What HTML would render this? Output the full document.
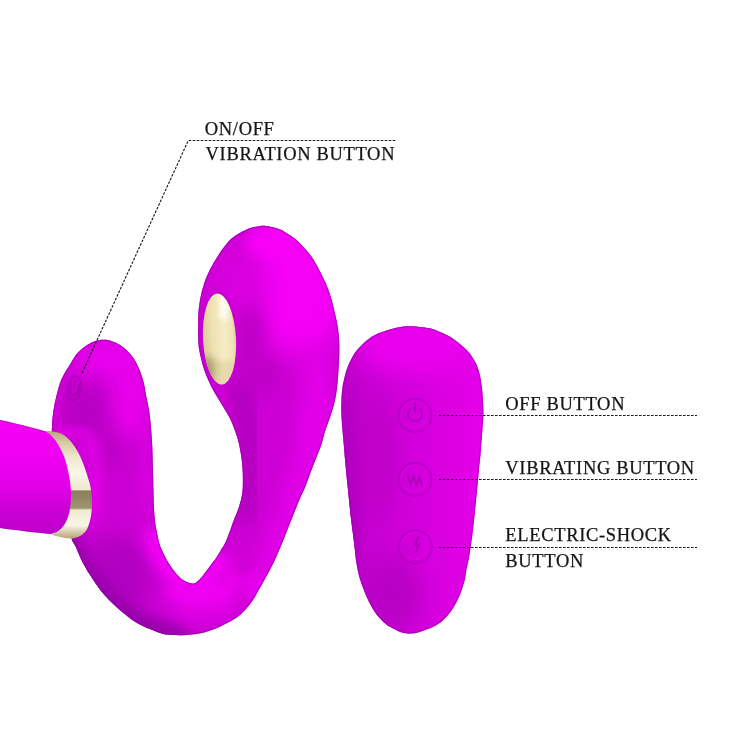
<!DOCTYPE html>
<html><head><meta charset="utf-8"><style>
html,body{margin:0;padding:0;background:#fff;width:730px;height:730px;overflow:hidden}
svg{display:block}
.t{font-family:"Liberation Serif",serif;font-size:18.5px;letter-spacing:0.66px;fill:#141414;stroke:#141414;stroke-width:0.25px}
</style></head><body>
<svg width="730" height="730" viewBox="0 0 730 730">
<defs>
<filter id="gray"><feColorMatrix type="saturate" values="0"/></filter>
<filter id="b05" x="-50%" y="-50%" width="200%" height="200%"><feGaussianBlur stdDeviation="0.5"/></filter>
<filter id="b2" x="-50%" y="-50%" width="200%" height="200%"><feGaussianBlur stdDeviation="2"/></filter>
<filter id="b4" x="-50%" y="-50%" width="200%" height="200%"><feGaussianBlur stdDeviation="4"/></filter>
<filter id="b6" x="-50%" y="-50%" width="200%" height="200%"><feGaussianBlur stdDeviation="6"/></filter>
<filter id="b8" x="-50%" y="-50%" width="200%" height="200%"><feGaussianBlur stdDeviation="8"/></filter>
<filter id="b10" x="-50%" y="-50%" width="200%" height="200%"><feGaussianBlur stdDeviation="10"/></filter>
<filter id="b12" x="-50%" y="-50%" width="200%" height="200%"><feGaussianBlur stdDeviation="12"/></filter>
<filter id="b15" x="-50%" y="-50%" width="200%" height="200%"><feGaussianBlur stdDeviation="15"/></filter>
<filter id="b20" x="-50%" y="-50%" width="200%" height="200%"><feGaussianBlur stdDeviation="20"/></filter>
<linearGradient id="gBody" gradientUnits="userSpaceOnUse" x1="320" y1="260" x2="110" y2="620">
  <stop offset="0" stop-color="#f400f4"/>
  <stop offset="0.55" stop-color="#dc00e4"/>
  <stop offset="1" stop-color="#b800c8"/>
</linearGradient>
<linearGradient id="gRemote" gradientUnits="userSpaceOnUse" x1="341" y1="0" x2="484" y2="0">
  <stop offset="0" stop-color="#bc00c8"/>
  <stop offset="0.25" stop-color="#c800d2"/>
  <stop offset="0.6" stop-color="#d600de"/>
  <stop offset="1" stop-color="#e400e8"/>
</linearGradient>
<linearGradient id="gBar" gradientUnits="userSpaceOnUse" x1="0" y1="420" x2="0" y2="534">
  <stop offset="0" stop-color="#f400f6"/>
  <stop offset="0.3" stop-color="#f000f2"/>
  <stop offset="0.6" stop-color="#e000e8"/>
  <stop offset="0.82" stop-color="#c800d2"/>
  <stop offset="1" stop-color="#c000cc"/>
</linearGradient>
<linearGradient id="gRing" gradientUnits="userSpaceOnUse" x1="0" y1="431" x2="0" y2="538">
  <stop offset="0" stop-color="#b8a47c"/>
  <stop offset="0.1" stop-color="#d6c8a0"/>
  <stop offset="0.25" stop-color="#efe8d0"/>
  <stop offset="0.4" stop-color="#faf7ea"/>
  <stop offset="0.55" stop-color="#efe8d0"/>
  <stop offset="0.56" stop-color="#887e5c"/>
  <stop offset="0.72" stop-color="#a09670"/>
  <stop offset="0.74" stop-color="#f0ead2"/>
  <stop offset="0.88" stop-color="#faf6e6"/>
  <stop offset="1" stop-color="#b8a47c"/>
</linearGradient>
<linearGradient id="gGold" x1="0" y1="0" x2="1" y2="0">
  <stop offset="0" stop-color="#dccb98"/>
  <stop offset="0.3" stop-color="#efe2b2"/>
  <stop offset="0.65" stop-color="#f6ecc4"/>
  <stop offset="0.9" stop-color="#f0e2b4"/>
  <stop offset="1" stop-color="#e0cfa0"/>
</linearGradient>
<clipPath id="cBody"><path d="M103.6,339.8 C106.6,339.8 109.0,340.2 112.0,341.2 C115.0,342.2 118.6,344.0 121.5,346.0 C124.4,348.0 127.0,350.4 129.4,353.2 C131.8,356.0 134.0,358.4 136.2,362.8 C138.4,367.2 141.2,373.8 142.8,379.3 C144.5,384.8 145.0,390.3 146.1,395.8 C147.2,401.3 148.6,406.7 149.4,412.2 C150.2,417.7 150.5,423.1 151.0,428.6 C151.5,434.1 151.8,437.3 152.2,445.0 C152.5,452.7 152.8,465.0 153.1,475.0 C153.4,485.0 153.6,497.4 153.9,505.0 C154.2,512.6 154.5,515.7 155.0,520.4 C155.5,525.1 156.1,528.7 157.0,533.0 C157.9,537.3 158.4,541.4 160.3,546.4 C162.2,551.4 165.5,558.0 168.5,562.9 C171.5,567.8 175.6,572.9 178.4,576.0 C181.2,579.1 183.1,580.3 185.6,581.6 C188.1,582.9 191.1,583.9 193.2,583.8 C195.3,583.7 196.7,582.2 198.3,580.8 C199.9,579.4 201.5,577.4 203.0,575.5 C204.5,573.6 206.0,571.5 207.5,569.5 C209.0,567.5 210.5,565.5 212.0,563.5 C213.5,561.5 214.8,560.0 216.3,557.7 C217.8,555.5 219.5,552.5 221.0,550.0 C222.5,547.5 223.9,545.6 225.3,542.6 C226.7,539.6 228.1,535.7 229.5,532.0 C230.9,528.3 232.0,524.6 233.6,520.5 C235.2,516.4 237.4,511.9 238.8,507.4 C240.2,502.9 241.5,498.3 242.2,493.7 C242.9,489.1 242.9,484.8 242.9,480.0 C242.9,475.2 242.8,470.0 242.3,465.0 C241.9,460.0 241.1,454.8 240.2,450.0 C239.3,445.2 238.4,441.0 236.8,436.0 C235.2,431.0 232.7,424.3 230.7,420.0 C228.7,415.7 226.9,413.3 225.0,410.0 C223.1,406.7 221.0,403.3 219.0,400.0 C217.0,396.7 214.8,393.3 213.0,390.0 C211.2,386.7 209.7,383.3 208.2,380.0 C206.7,376.7 205.3,373.3 204.2,370.0 C203.1,366.7 202.2,363.3 201.4,360.0 C200.6,356.7 199.7,353.3 199.2,350.0 C198.7,346.7 198.4,344.2 198.2,340.0 C198.0,335.8 198.1,329.8 198.2,325.0 C198.2,320.2 198.1,315.6 198.5,311.0 C198.9,306.4 199.6,301.8 200.5,297.2 C201.4,292.6 202.6,287.9 204.2,283.3 C205.8,278.7 207.5,274.4 209.8,269.8 C212.1,265.2 214.8,260.6 217.8,256.0 C220.8,251.4 225.0,245.4 228.0,242.0 C231.0,238.6 232.6,237.5 236.0,235.3 C239.4,233.1 244.1,230.4 248.2,228.8 C252.3,227.2 256.6,226.2 260.5,225.9 C264.4,225.6 268.2,226.4 271.5,227.0 C274.8,227.6 277.0,228.2 280.0,229.5 C283.0,230.8 286.3,232.8 289.5,235.0 C292.7,237.2 295.4,238.9 299.0,242.4 C302.6,245.9 307.7,251.5 311.0,256.1 C314.3,260.7 316.6,265.3 319.0,269.8 C321.4,274.3 323.7,278.7 325.7,283.3 C327.7,287.9 329.2,292.1 330.8,297.2 C332.4,302.3 333.8,308.7 335.0,313.7 C336.2,318.7 337.1,322.8 337.8,327.4 C338.5,332.0 338.9,336.5 339.2,341.1 C339.4,345.7 339.4,350.2 339.3,354.8 C339.2,359.4 338.9,363.9 338.6,368.5 C338.3,373.1 338.0,377.8 337.6,382.2 C337.2,386.6 336.7,391.0 336.0,395.0 C335.3,399.0 334.6,402.3 333.6,406.0 C332.6,409.7 331.3,413.2 329.9,417.4 C328.5,421.6 326.4,426.5 325.0,431.1 C323.6,435.7 322.8,440.2 321.3,444.8 C319.8,449.4 317.8,453.9 316.0,458.5 C314.2,463.1 312.3,467.6 310.6,472.2 C308.9,476.8 307.2,481.9 305.6,485.9 C304.0,489.9 302.6,492.4 301.0,496.0 C299.4,499.6 298.0,503.2 296.3,507.4 C294.6,511.6 293.0,515.7 290.8,521.1 C288.6,526.5 285.8,534.1 283.4,540.0 C281.0,545.9 278.9,550.9 276.4,556.4 C273.9,561.9 271.2,567.3 268.2,572.9 C265.2,578.5 261.4,585.1 258.6,590.0 C255.8,594.9 254.5,598.2 251.4,602.3 C248.3,606.4 244.4,611.2 240.3,614.7 C236.2,618.2 231.2,620.8 226.7,623.3 C222.2,625.8 217.5,627.9 213.2,629.5 C208.9,631.1 206.0,632.2 200.8,633.2 C195.7,634.2 187.8,635.0 182.3,635.2 C176.8,635.4 171.9,635.1 168.0,634.6 C164.1,634.1 163.4,634.2 158.6,632.4 C153.8,630.6 144.9,627.4 138.9,624.0 C132.9,620.6 128.1,616.9 122.5,612.2 C116.9,607.5 110.1,601.3 105.2,595.8 C100.3,590.3 96.6,584.8 92.9,579.3 C89.2,573.8 85.9,568.4 83.0,562.9 C80.1,557.4 77.5,550.5 75.6,546.4 C73.7,542.3 73.4,544.3 71.5,538.2 C69.6,532.1 66.4,521.4 64.0,510.0 C61.6,498.6 59.0,481.7 57.0,470.0 C55.0,458.3 52.8,446.9 51.9,440.0 C51.0,433.1 51.7,433.2 51.9,428.6 C52.1,424.0 52.4,417.7 53.2,412.2 C54.0,406.7 55.1,401.3 56.5,395.8 C57.9,390.3 59.0,384.8 61.4,379.3 C63.8,373.8 68.4,367.2 71.0,362.8 C73.6,358.4 74.9,355.9 77.2,353.2 C79.5,350.5 82.2,348.4 85.0,346.4 C87.8,344.4 90.9,342.5 94.0,341.4 C97.1,340.3 100.6,339.8 103.6,339.8 Z"/></clipPath>
<clipPath id="cBar"><path d="M-5,418.8 L0,419.9 C20,424.2 36,428.5 45.2,431.2 L55,432.5 C66,445 74,465 78,488 C80,505 77,522 68,534 L51,534 C36,532.5 18,530.3 0,527.9 L-5,527.3 Z"/></clipPath>
<clipPath id="cRemote"><path d="M409.9,326.2 C413.9,326.2 418.2,326.7 422.0,327.2 C425.8,327.7 428.7,327.8 432.5,329.0 C436.3,330.2 441.2,332.4 445.0,334.3 C448.8,336.2 451.3,337.4 455.0,340.2 C458.7,342.9 464.1,347.3 467.4,350.8 C470.7,354.3 472.8,357.8 474.6,361.0 C476.5,364.2 477.5,366.9 478.5,370.0 C479.5,373.1 480.0,375.4 480.7,379.6 C481.4,383.8 482.2,389.3 482.6,395.0 C483.1,400.7 483.4,408.6 483.4,414.0 C483.4,419.4 482.8,422.9 482.5,427.4 C482.2,431.9 481.9,436.4 481.5,441.0 C481.1,445.6 480.8,450.4 480.4,455.0 C480.0,459.6 479.5,463.5 479.0,468.5 C478.5,473.5 478.1,478.9 477.5,485.0 C476.9,491.1 476.2,498.3 475.5,505.0 C474.8,511.7 474.2,518.3 473.5,525.0 C472.8,531.7 471.8,539.2 471.0,545.0 C470.2,550.8 469.4,555.8 468.6,560.0 C467.8,564.2 467.0,566.7 466.4,570.0 C465.8,573.3 465.6,576.4 464.9,579.6 C464.2,582.8 463.1,586.0 462.0,589.2 C460.9,592.4 459.7,595.6 458.2,598.8 C456.7,602.0 455.0,605.2 452.9,608.4 C450.8,611.6 448.2,615.0 445.3,617.9 C442.4,620.8 439.2,623.5 435.7,625.6 C432.2,627.7 428.1,629.1 424.2,630.4 C420.2,631.7 415.7,633.2 412.0,633.6 C408.3,634.0 404.8,633.3 402.0,632.6 C399.2,631.9 397.8,631.0 395.2,629.6 C392.6,628.2 389.1,626.6 386.1,624.2 C383.1,621.8 379.6,618.2 377.1,615.2 C374.6,612.2 372.9,609.1 371.2,606.1 C369.5,603.1 368.0,600.1 366.7,597.1 C365.4,594.1 364.2,591.1 363.1,588.1 C362.0,585.1 360.8,582.0 359.9,579.0 C359.0,576.0 358.3,573.2 357.7,570.0 C357.1,566.8 356.5,563.4 356.0,560.0 C355.5,556.6 355.3,553.9 354.8,549.4 C354.3,544.9 353.5,538.4 352.8,532.9 C352.1,527.4 351.3,522.0 350.7,516.5 C350.1,511.0 349.5,505.2 349.0,500.0 C348.5,494.8 348.1,490.8 347.5,485.0 C346.9,479.2 346.1,471.7 345.5,465.0 C344.9,458.3 344.3,451.2 343.8,445.0 C343.3,438.8 342.7,433.5 342.3,428.0 C341.9,422.5 341.4,417.0 341.3,412.0 C341.2,407.0 341.3,402.2 341.5,398.0 C341.7,393.8 342.1,390.1 342.5,387.0 C342.9,383.9 343.3,382.4 344.0,379.6 C344.7,376.8 345.4,373.1 346.5,370.0 C347.6,366.9 348.7,364.2 350.3,361.0 C351.9,357.8 353.7,354.2 356.4,350.8 C359.1,347.4 363.4,343.2 366.7,340.5 C370.0,337.8 372.6,336.2 376.0,334.5 C379.4,332.8 383.6,331.5 387.3,330.3 C391.0,329.1 394.2,328.1 398.0,327.4 C401.8,326.7 405.9,326.2 409.9,326.2 Z"/></clipPath>
<clipPath id="cGold"><ellipse cx="219.5" cy="339" rx="16.5" ry="45.5" transform="rotate(-3 219.5 339)"/></clipPath>
</defs>

<g clip-path="url(#cBody)">
  <rect x="0" y="200" width="360" height="450" fill="#cc00d4"/>
  <ellipse cx="300" cy="285" rx="52" ry="72" fill="#f600f6" filter="url(#b15)"/>
  <ellipse cx="238" cy="295" rx="26" ry="50" fill="#d800de" filter="url(#b12)"/>
  <ellipse cx="318" cy="400" rx="16" ry="55" fill="#e400ea" filter="url(#b10)"/>
  <path d="M318,410 C305,470 290,520 258,590" fill="none" stroke="#e400ea" stroke-width="26" filter="url(#b10)"/>
  <path d="M235,380 C253,420 254,470 240,520" fill="none" stroke="#b000bc" stroke-width="24" filter="url(#b10)"/>
  <ellipse cx="262" cy="375" rx="18" ry="18" fill="#bc00c6" filter="url(#b10)"/>
  <ellipse cx="250" cy="336" rx="13" ry="30" fill="#bc00c6" filter="url(#b8)"/>
  <ellipse cx="110" cy="358" rx="36" ry="22" fill="#e800ee" filter="url(#b10)"/>
  <ellipse cx="92" cy="415" rx="32" ry="30" fill="#b800c4" filter="url(#b10)"/>
  <ellipse cx="55" cy="405" rx="3" ry="22" fill="#dc00e4" filter="url(#b2)"/>
  <ellipse cx="110" cy="445" rx="16" ry="26" fill="#bc00c6" filter="url(#b10)"/>
  <ellipse cx="72" cy="433" rx="22" ry="5" fill="#e400ea" filter="url(#b4)"/>
  <ellipse cx="96" cy="488" rx="5" ry="40" fill="#e400ea" filter="url(#b4)"/>
  <ellipse cx="90" cy="447" rx="10" ry="13" fill="#dc00e2" filter="url(#b4)"/>
  <ellipse cx="146" cy="470" rx="5" ry="50" fill="#d800e0" filter="url(#b4)"/>
  <ellipse cx="130" cy="398" rx="20" ry="42" fill="#e800ec" filter="url(#b10)"/>
  <ellipse cx="115" cy="575" rx="36" ry="40" fill="#b000c0" filter="url(#b12)"/>
  <path d="M66,530 C76,570 100,605 145,626 L185,640" fill="none" stroke="#9800ac" stroke-width="24" filter="url(#b6)"/>
  <ellipse cx="205" cy="603" rx="34" ry="16" fill="#e400ea" filter="url(#b10)"/>
  <ellipse cx="228" cy="565" rx="12" ry="14" fill="#d800dc" filter="url(#b6)"/>
  <ellipse cx="254" cy="588" rx="12" ry="14" fill="#e800ee" filter="url(#b6)"/>
  <ellipse cx="275" cy="243" rx="30" ry="16" fill="#f800f8" filter="url(#b6)"/>
  <path d="M155,528 C156,540 159,550 168,563 C176,576 186,584 193,586 C203,582 212,570 222,556" fill="none" stroke="#f000f4" stroke-width="26" filter="url(#b6)"/>
  <ellipse cx="200" cy="592" rx="36" ry="12" fill="#f000f2" filter="url(#b6)"/>
  <ellipse cx="232" cy="582" rx="10" ry="10" fill="#ea00ee" filter="url(#b4)"/>
  <ellipse cx="219.5" cy="339" rx="19.5" ry="48.5" fill="#c400d0" filter="url(#b2)" transform="rotate(-3 219.5 339)"/>
  <path d="M103.6,339.8 C106.6,339.8 109.0,340.2 112.0,341.2 C115.0,342.2 118.6,344.0 121.5,346.0 C124.4,348.0 127.0,350.4 129.4,353.2 C131.8,356.0 134.0,358.4 136.2,362.8 C138.4,367.2 141.2,373.8 142.8,379.3 C144.5,384.8 145.0,390.3 146.1,395.8 C147.2,401.3 148.6,406.7 149.4,412.2 C150.2,417.7 150.5,423.1 151.0,428.6 C151.5,434.1 151.8,437.3 152.2,445.0 C152.5,452.7 152.8,465.0 153.1,475.0 C153.4,485.0 153.6,497.4 153.9,505.0 C154.2,512.6 154.5,515.7 155.0,520.4 C155.5,525.1 156.1,528.7 157.0,533.0 C157.9,537.3 158.4,541.4 160.3,546.4 C162.2,551.4 165.5,558.0 168.5,562.9 C171.5,567.8 175.6,572.9 178.4,576.0 C181.2,579.1 183.1,580.3 185.6,581.6 C188.1,582.9 191.1,583.9 193.2,583.8 C195.3,583.7 196.7,582.2 198.3,580.8 C199.9,579.4 201.5,577.4 203.0,575.5 C204.5,573.6 206.0,571.5 207.5,569.5 C209.0,567.5 210.5,565.5 212.0,563.5 C213.5,561.5 214.8,560.0 216.3,557.7 C217.8,555.5 219.5,552.5 221.0,550.0 C222.5,547.5 223.9,545.6 225.3,542.6 C226.7,539.6 228.1,535.7 229.5,532.0 C230.9,528.3 232.0,524.6 233.6,520.5 C235.2,516.4 237.4,511.9 238.8,507.4 C240.2,502.9 241.5,498.3 242.2,493.7 C242.9,489.1 242.9,484.8 242.9,480.0 C242.9,475.2 242.8,470.0 242.3,465.0 C241.9,460.0 241.1,454.8 240.2,450.0 C239.3,445.2 238.4,441.0 236.8,436.0 C235.2,431.0 232.7,424.3 230.7,420.0 C228.7,415.7 226.9,413.3 225.0,410.0 C223.1,406.7 221.0,403.3 219.0,400.0 C217.0,396.7 214.8,393.3 213.0,390.0 C211.2,386.7 209.7,383.3 208.2,380.0 C206.7,376.7 205.3,373.3 204.2,370.0 C203.1,366.7 202.2,363.3 201.4,360.0 C200.6,356.7 199.7,353.3 199.2,350.0 C198.7,346.7 198.4,344.2 198.2,340.0 C198.0,335.8 198.1,329.8 198.2,325.0 C198.2,320.2 198.1,315.6 198.5,311.0 C198.9,306.4 199.6,301.8 200.5,297.2 C201.4,292.6 202.6,287.9 204.2,283.3 C205.8,278.7 207.5,274.4 209.8,269.8 C212.1,265.2 214.8,260.6 217.8,256.0 C220.8,251.4 225.0,245.4 228.0,242.0 C231.0,238.6 232.6,237.5 236.0,235.3 C239.4,233.1 244.1,230.4 248.2,228.8 C252.3,227.2 256.6,226.2 260.5,225.9 C264.4,225.6 268.2,226.4 271.5,227.0 C274.8,227.6 277.0,228.2 280.0,229.5 C283.0,230.8 286.3,232.8 289.5,235.0 C292.7,237.2 295.4,238.9 299.0,242.4 C302.6,245.9 307.7,251.5 311.0,256.1 C314.3,260.7 316.6,265.3 319.0,269.8 C321.4,274.3 323.7,278.7 325.7,283.3 C327.7,287.9 329.2,292.1 330.8,297.2 C332.4,302.3 333.8,308.7 335.0,313.7 C336.2,318.7 337.1,322.8 337.8,327.4 C338.5,332.0 338.9,336.5 339.2,341.1 C339.4,345.7 339.4,350.2 339.3,354.8 C339.2,359.4 338.9,363.9 338.6,368.5 C338.3,373.1 338.0,377.8 337.6,382.2 C337.2,386.6 336.7,391.0 336.0,395.0 C335.3,399.0 334.6,402.3 333.6,406.0 C332.6,409.7 331.3,413.2 329.9,417.4 C328.5,421.6 326.4,426.5 325.0,431.1 C323.6,435.7 322.8,440.2 321.3,444.8 C319.8,449.4 317.8,453.9 316.0,458.5 C314.2,463.1 312.3,467.6 310.6,472.2 C308.9,476.8 307.2,481.9 305.6,485.9 C304.0,489.9 302.6,492.4 301.0,496.0 C299.4,499.6 298.0,503.2 296.3,507.4 C294.6,511.6 293.0,515.7 290.8,521.1 C288.6,526.5 285.8,534.1 283.4,540.0 C281.0,545.9 278.9,550.9 276.4,556.4 C273.9,561.9 271.2,567.3 268.2,572.9 C265.2,578.5 261.4,585.1 258.6,590.0 C255.8,594.9 254.5,598.2 251.4,602.3 C248.3,606.4 244.4,611.2 240.3,614.7 C236.2,618.2 231.2,620.8 226.7,623.3 C222.2,625.8 217.5,627.9 213.2,629.5 C208.9,631.1 206.0,632.2 200.8,633.2 C195.7,634.2 187.8,635.0 182.3,635.2 C176.8,635.4 171.9,635.1 168.0,634.6 C164.1,634.1 163.4,634.2 158.6,632.4 C153.8,630.6 144.9,627.4 138.9,624.0 C132.9,620.6 128.1,616.9 122.5,612.2 C116.9,607.5 110.1,601.3 105.2,595.8 C100.3,590.3 96.6,584.8 92.9,579.3 C89.2,573.8 85.9,568.4 83.0,562.9 C80.1,557.4 77.5,550.5 75.6,546.4 C73.7,542.3 73.4,544.3 71.5,538.2 C69.6,532.1 66.4,521.4 64.0,510.0 C61.6,498.6 59.0,481.7 57.0,470.0 C55.0,458.3 52.8,446.9 51.9,440.0 C51.0,433.1 51.7,433.2 51.9,428.6 C52.1,424.0 52.4,417.7 53.2,412.2 C54.0,406.7 55.1,401.3 56.5,395.8 C57.9,390.3 59.0,384.8 61.4,379.3 C63.8,373.8 68.4,367.2 71.0,362.8 C73.6,358.4 74.9,355.9 77.2,353.2 C79.5,350.5 82.2,348.4 85.0,346.4 C87.8,344.4 90.9,342.5 94.0,341.4 C97.1,340.3 100.6,339.8 103.6,339.8 Z" fill="none" stroke="#9000a8" stroke-width="2.2" opacity="0.55"/>
</g>
<g fill="none" filter="url(#b05)" transform="rotate(8 74.4 388.2)">
  <ellipse cx="74.4" cy="388.2" rx="6.7" ry="12.3" stroke="#a400b4" stroke-width="1.5" opacity="0.9"/>
  <path d="M71.2,383.2 A4.4,7.2 0 1 0 77.6,383.2" stroke="#a400b4" stroke-width="1.4"/>
  <path d="M74.4,380 L74.4,388.5" stroke="#a400b4" stroke-width="1.4"/>
</g>
<path d="M-5,418.8 L0,419.9 C20,424.2 36,428.5 45.2,431.2 L55,432.5 C66,445 74,465 78,488 C80,505 77,522 68,534 L51,534 C36,532.5 18,530.3 0,527.9 L-5,527.3 Z" fill="url(#gBar)"/>
<g clip-path="url(#cBar)"><path d="M-5,418.8 L0,419.9 C20,424.2 36,428.5 45.2,431.2 L55,432.5 C66,445 74,465 78,488 C80,505 77,522 68,534 L51,534 C36,532.5 18,530.3 0,527.9 L-5,527.3 Z" fill="none" stroke="#9800ae" stroke-width="2" opacity="0.45"/></g>
<path d="M45.2,431.2 C46.1,430.9 52.2,431.5 55.0,432.0 C57.8,432.5 59.8,432.9 62.0,434.0 C64.2,435.1 66.1,436.7 68.0,438.5 C69.9,440.3 71.8,442.6 73.5,445.0 C75.2,447.4 76.9,450.0 78.5,453.0 C80.1,456.0 81.6,459.5 83.0,463.0 C84.4,466.5 85.6,470.2 86.8,474.0 C88.0,477.8 89.5,482.0 90.3,486.0 C91.1,490.0 91.6,494.0 91.8,498.0 C92.0,502.0 92.0,506.2 91.7,510.0 C91.4,513.8 90.8,517.7 89.9,521.0 C89.0,524.3 88.1,527.5 86.5,530.0 C84.9,532.5 82.8,534.4 80.5,535.8 C78.2,537.2 75.6,538.0 73.0,538.4 C70.4,538.8 67.5,538.3 65.0,538.0 C62.5,537.7 60.3,537.3 58.0,536.6 C55.7,535.9 51.1,534.9 51.0,534.0 C50.9,533.1 55.2,533.1 57.5,531.5 C59.8,529.9 62.5,527.8 64.5,524.5 C66.5,521.2 68.4,516.9 69.5,511.6 C70.6,506.4 71.1,499.2 71.0,493.0 C70.9,486.8 70.0,480.7 68.8,474.6 C67.6,468.5 66.1,461.7 64.0,456.2 C61.9,450.7 58.6,445.1 56.2,441.4 C53.8,437.7 51.3,435.7 49.5,434.0 C47.7,432.3 44.3,431.5 45.2,431.2 Z" fill="url(#gRing)"/>
<ellipse cx="219.5" cy="339" rx="16.5" ry="45.5" fill="url(#gGold)" transform="rotate(-3 219.5 339)"/>
<g clip-path="url(#cGold)">
  <rect x="200" y="361" width="40" height="30" fill="#d8ca98" opacity="0.5" filter="url(#b2)"/>
  <ellipse cx="207" cy="370" rx="7" ry="14" fill="#988c62" opacity="0.85" filter="url(#b4)"/>
  <path d="M219,296 C222,293 228,296 229,302 L228,322 L219,318 Z" fill="#fffcf0" opacity="0.95" filter="url(#b2)"/>
</g>

<g clip-path="url(#cRemote)">
  <rect x="330" y="320" width="160" height="320" fill="url(#gRemote)"/>
  <ellipse cx="414" cy="345" rx="62" ry="30" fill="#ea00ee" filter="url(#b12)"/>
  <ellipse cx="350" cy="500" rx="9" ry="110" fill="#b000c0" filter="url(#b6)"/>
  <ellipse cx="392" cy="595" rx="28" ry="38" fill="#b800c4" filter="url(#b12)"/>
  <ellipse cx="378" cy="460" rx="16" ry="60" fill="#c000c8" filter="url(#b10)"/>
  <ellipse cx="476" cy="450" rx="8" ry="90" fill="#e400ea" filter="url(#b6)"/>
  <path d="M409.9,326.2 C413.9,326.2 418.2,326.7 422.0,327.2 C425.8,327.7 428.7,327.8 432.5,329.0 C436.3,330.2 441.2,332.4 445.0,334.3 C448.8,336.2 451.3,337.4 455.0,340.2 C458.7,342.9 464.1,347.3 467.4,350.8 C470.7,354.3 472.8,357.8 474.6,361.0 C476.5,364.2 477.5,366.9 478.5,370.0 C479.5,373.1 480.0,375.4 480.7,379.6 C481.4,383.8 482.2,389.3 482.6,395.0 C483.1,400.7 483.4,408.6 483.4,414.0 C483.4,419.4 482.8,422.9 482.5,427.4 C482.2,431.9 481.9,436.4 481.5,441.0 C481.1,445.6 480.8,450.4 480.4,455.0 C480.0,459.6 479.5,463.5 479.0,468.5 C478.5,473.5 478.1,478.9 477.5,485.0 C476.9,491.1 476.2,498.3 475.5,505.0 C474.8,511.7 474.2,518.3 473.5,525.0 C472.8,531.7 471.8,539.2 471.0,545.0 C470.2,550.8 469.4,555.8 468.6,560.0 C467.8,564.2 467.0,566.7 466.4,570.0 C465.8,573.3 465.6,576.4 464.9,579.6 C464.2,582.8 463.1,586.0 462.0,589.2 C460.9,592.4 459.7,595.6 458.2,598.8 C456.7,602.0 455.0,605.2 452.9,608.4 C450.8,611.6 448.2,615.0 445.3,617.9 C442.4,620.8 439.2,623.5 435.7,625.6 C432.2,627.7 428.1,629.1 424.2,630.4 C420.2,631.7 415.7,633.2 412.0,633.6 C408.3,634.0 404.8,633.3 402.0,632.6 C399.2,631.9 397.8,631.0 395.2,629.6 C392.6,628.2 389.1,626.6 386.1,624.2 C383.1,621.8 379.6,618.2 377.1,615.2 C374.6,612.2 372.9,609.1 371.2,606.1 C369.5,603.1 368.0,600.1 366.7,597.1 C365.4,594.1 364.2,591.1 363.1,588.1 C362.0,585.1 360.8,582.0 359.9,579.0 C359.0,576.0 358.3,573.2 357.7,570.0 C357.1,566.8 356.5,563.4 356.0,560.0 C355.5,556.6 355.3,553.9 354.8,549.4 C354.3,544.9 353.5,538.4 352.8,532.9 C352.1,527.4 351.3,522.0 350.7,516.5 C350.1,511.0 349.5,505.2 349.0,500.0 C348.5,494.8 348.1,490.8 347.5,485.0 C346.9,479.2 346.1,471.7 345.5,465.0 C344.9,458.3 344.3,451.2 343.8,445.0 C343.3,438.8 342.7,433.5 342.3,428.0 C341.9,422.5 341.4,417.0 341.3,412.0 C341.2,407.0 341.3,402.2 341.5,398.0 C341.7,393.8 342.1,390.1 342.5,387.0 C342.9,383.9 343.3,382.4 344.0,379.6 C344.7,376.8 345.4,373.1 346.5,370.0 C347.6,366.9 348.7,364.2 350.3,361.0 C351.9,357.8 353.7,354.2 356.4,350.8 C359.1,347.4 363.4,343.2 366.7,340.5 C370.0,337.8 372.6,336.2 376.0,334.5 C379.4,332.8 383.6,331.5 387.3,330.3 C391.0,329.1 394.2,328.1 398.0,327.4 C401.8,326.7 405.9,326.2 409.9,326.2 Z" fill="none" stroke="#9000a8" stroke-width="2.2" opacity="0.5"/>
</g>
<g>
<circle cx="415" cy="415.5" r="16.6" fill="none" stroke="#b000c0" stroke-width="1.6" opacity="0.8" filter="url(#b05)"/>
<circle cx="414.5" cy="415.0" r="13" fill="none" stroke="#f000f4" stroke-width="1.2" opacity="0.55" filter="url(#b05)"/>
<circle cx="415.5" cy="416.1" r="13.4" fill="none" stroke="#c000cc" stroke-width="1" opacity="0.5" filter="url(#b05)"/>
<g fill="none" stroke="#b200c0" stroke-width="2" stroke-linecap="round" stroke-linejoin="round" filter="url(#b05)"><path d="M410.4,408.6 A7.2,7.2 0 1 0 419.8,408.6"/><path d="M415,402.8 L415,412"/></g>
</g>
<g>
<circle cx="415" cy="479.5" r="16.6" fill="none" stroke="#b000c0" stroke-width="1.6" opacity="0.8" filter="url(#b05)"/>
<circle cx="414.5" cy="479.0" r="13" fill="none" stroke="#f000f4" stroke-width="1.2" opacity="0.55" filter="url(#b05)"/>
<circle cx="415.5" cy="480.1" r="13.4" fill="none" stroke="#c000cc" stroke-width="1" opacity="0.5" filter="url(#b05)"/>
<g fill="none" stroke="#b200c0" stroke-width="2" stroke-linecap="round" stroke-linejoin="round" filter="url(#b05)"><path d="M407.5,474.5 L410.5,485 L413.5,476.5 L416.5,485.5 L419.5,477 L422,485.5"/></g>
</g>
<g>
<circle cx="415.3" cy="546.8" r="16.6" fill="none" stroke="#b000c0" stroke-width="1.6" opacity="0.8" filter="url(#b05)"/>
<circle cx="414.8" cy="546.3" r="13" fill="none" stroke="#f000f4" stroke-width="1.2" opacity="0.55" filter="url(#b05)"/>
<circle cx="415.8" cy="547.4" r="13.4" fill="none" stroke="#c000cc" stroke-width="1" opacity="0.5" filter="url(#b05)"/>
<g fill="none" stroke="#b200c0" stroke-width="2" stroke-linecap="round" stroke-linejoin="round" filter="url(#b05)"><path d="M418.6,537 L414.6,545 L419.2,544 L416,551.5"/></g>
</g>
<g stroke="#1a1a1a" stroke-width="1.15" stroke-dasharray="2.6 1.4" fill="none">
  <path d="M82,373 L188.3,140.5 L396.5,140.5"/>
  <path d="M439,415.5 L697,415.5"/>
  <path d="M439,479.5 L697,479.5"/>
  <path d="M439,547.5 L697,547.5"/>
</g>
<g filter="url(#gray)"><text class="t" x="204.8" y="135">ON/OFF</text>
<text class="t" x="205.6" y="160">VIBRATION BUTTON</text>
<text class="t" x="505.3" y="409.7">OFF BUTTON</text>
<text class="t" x="505.3" y="474">VIBRATING BUTTON</text>
<text class="t" x="505.3" y="541">ELECTRIC-SHOCK</text>
<text class="t" x="505.3" y="567">BUTTON</text></g>
</svg>
</body></html>
